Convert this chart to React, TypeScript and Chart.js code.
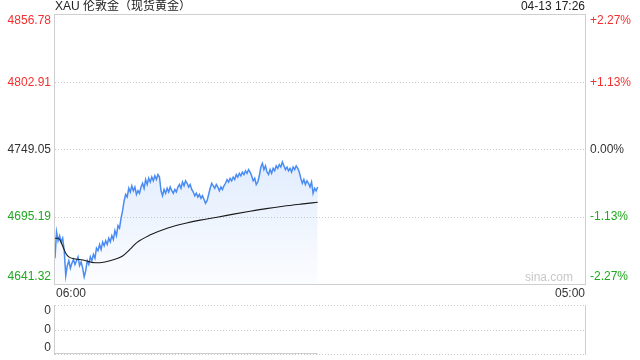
import React, { useEffect, useRef } from 'react';
import { Chart, registerables } from 'chart.js';

Chart.register(...registerables);

const TITLE = 'XAU 伦敦金（现货黄金）';
const STAMP = '04-13 17:26';
const X_LABELS = ['06:00', '05:00'];
const SESSION_MINUTES = 1380;
const STEP_MINUTES = 4;
const PRICE_TICKS = [4856.78, 4802.91, 4749.05, 4695.19, 4641.32];
const PCT_TICKS = ['+2.27%', '+1.13%', '0.00%', '-1.13%', '-2.27%'];
const VOLUME_TICKS = ['0', '0', '0'];
const WATERMARK = 'sina.com';

const prices = [
  4662, 4683, 4676, 4680, 4675, 4678, 4668, 4648, 4656, 4660,
  4654, 4658, 4661, 4657, 4660, 4663, 4656, 4659, 4654, 4647,
  4652, 4660, 4657, 4663, 4660, 4665, 4662, 4670, 4668, 4673,
  4669, 4675, 4672, 4676, 4673, 4678, 4675, 4680, 4677, 4684,
  4680, 4688, 4686, 4694, 4700, 4708, 4713, 4711, 4718, 4715,
  4720, 4716, 4719, 4713, 4716, 4714, 4719, 4722, 4718, 4725,
  4721, 4726, 4723, 4727, 4724, 4728, 4725, 4729, 4727, 4716,
  4712, 4717, 4714, 4718, 4715, 4719, 4716, 4714, 4717, 4715,
  4719, 4721, 4718, 4723, 4720, 4724, 4722, 4719, 4721, 4717,
  4715, 4712, 4714, 4711, 4713, 4710, 4712, 4709, 4706, 4708,
  4713, 4718, 4722, 4720, 4718, 4721, 4719, 4716, 4719, 4717,
  4720, 4722, 4725, 4723, 4726, 4724, 4727, 4725, 4729, 4727,
  4730, 4728, 4731, 4729, 4732, 4730, 4733, 4731, 4728, 4724,
  4726, 4721, 4723, 4728, 4735, 4738, 4733, 4736, 4731, 4729,
  4733, 4730, 4734, 4732, 4736, 4734, 4737, 4735, 4739, 4736,
  4733, 4735, 4732, 4734, 4731, 4735, 4733, 4736, 4734, 4731,
  4726, 4722, 4725, 4721, 4724, 4722, 4719, 4723, 4714, 4718,
  4716, 4719,
];

const avgMinutes = [0, 8, 14, 21, 28, 36, 50, 73, 104, 130, 160, 177, 195, 213, 247, 292, 340, 378, 422, 465, 508, 550, 594, 640, 684];
const avgValues = [4678, 4678, 4676, 4671, 4666, 4663, 4661.5, 4660.5, 4658.3, 4659, 4661.5, 4664, 4669, 4674.5, 4680.5, 4686, 4690, 4692.5, 4694.8, 4697.3, 4699.6, 4701.7, 4703.6, 4705.3, 4706.8];

const FONT = '12px Arial, "Liberation Sans", "Noto Sans CJK SC", sans-serif';
const RED = '#f2302f';
const GREEN = '#1fa81f';
const DARK = '#333333';
const FRAME = '#cfcfcf';
const tickColors = [RED, RED, DARK, GREEN, GREEN];

const mainDecor = {
  id: 'mainDecor',
  beforeDatasetsDraw(chart: any) {
    const { ctx, chartArea: a, scales } = chart;
    const y = scales.y;
    ctx.save();
    ctx.lineWidth = 1;
    ctx.strokeStyle = '#cccccc';
    ctx.setLineDash([1, 2]);
    PRICE_TICKS.slice(1, -1).forEach((v) => {
      const py = Math.round(y.getPixelForValue(v)) + 0.5;
      ctx.beginPath();
      ctx.moveTo(a.left, py);
      ctx.lineTo(a.right, py);
      ctx.stroke();
    });
    ctx.restore();
  },
  afterDraw(chart: any) {
    const { ctx, chartArea: a, scales } = chart;
    const y = scales.y;
    ctx.save();
    ctx.lineWidth = 1;
    ctx.strokeStyle = FRAME;
    ctx.strokeRect(a.left - 0.5, a.top - 0.5, a.right - a.left + 1, a.bottom - a.top + 1);
    ctx.font = FONT;
    PRICE_TICKS.forEach((v, i) => {
      let py = y.getPixelForValue(v);
      let base: CanvasTextBaseline = 'middle';
      if (i === 0) { base = 'top'; py = a.top; }
      if (i === PRICE_TICKS.length - 1) { base = 'bottom'; py = a.bottom - 1; }
      ctx.textBaseline = base;
      ctx.fillStyle = tickColors[i];
      ctx.textAlign = 'right';
      ctx.fillText(v.toFixed(2), a.left - 4, py);
      ctx.textAlign = 'left';
      ctx.fillText(PCT_TICKS[i], a.right + 5, py);
    });
    ctx.fillStyle = '#222';
    ctx.textBaseline = 'middle';
    ctx.textAlign = 'left';
    ctx.fillText(TITLE, a.left, 7);
    ctx.textAlign = 'right';
    ctx.fillText(STAMP, a.right, 7);
    const x = scales.x;
    ctx.fillStyle = DARK;
    ctx.textAlign = 'left';
    ctx.fillText(X_LABELS[0], x.getPixelForValue(0) + 1, 294);
    ctx.textAlign = 'right';
    ctx.fillText(X_LABELS[1], x.getPixelForValue(SESSION_MINUTES), 294);
    ctx.fillStyle = '#c8c8c8';
    ctx.textBaseline = 'bottom';
    ctx.fillText(WATERMARK, a.right - 12, a.bottom);
    ctx.restore();
  },
};

const volDecor = {
  id: 'volDecor',
  beforeDatasetsDraw(chart: any) {
    const { ctx, chartArea: a } = chart;
    ctx.save();
    ctx.lineWidth = 1;
    ctx.strokeStyle = '#cccccc';
    ctx.setLineDash([1, 2]);
    [a.top, (a.top + a.bottom) / 2, a.bottom].forEach((p) => {
      const py = Math.round(p) + 0.5;
      ctx.beginPath();
      ctx.moveTo(a.left, py);
      ctx.lineTo(a.right, py);
      ctx.stroke();
    });
    ctx.setLineDash([]);
    ctx.strokeStyle = FRAME;
    [a.left - 0.5, a.right + 0.5].forEach((px) => {
      ctx.beginPath();
      ctx.moveTo(px, a.top);
      ctx.lineTo(px, a.bottom + 1);
      ctx.stroke();
    });
    ctx.font = FONT;
    ctx.fillStyle = DARK;
    ctx.textAlign = 'right';
    const ys = [a.top, (a.top + a.bottom) / 2, a.bottom];
    const bases: CanvasTextBaseline[] = ['top', 'middle', 'bottom'];
    VOLUME_TICKS.forEach((t, i) => {
      ctx.textBaseline = bases[i];
      ctx.fillText(t, a.left - 4, ys[i]);
    });
    ctx.restore();
  },
};

export default function App() {
  const mainRef = useRef<HTMLCanvasElement>(null);
  const volRef = useRef<HTMLCanvasElement>(null);

  useEffect(() => {
    const priceData = prices.map((v, i) => ({ x: i * STEP_MINUTES, y: v }));
    const avgData = avgValues.map((v, i) => ({ x: avgMinutes[i], y: v }));
    const volData = prices.map((_, i) => ({ x: i * STEP_MINUTES, y: 0 }));

    const main = new Chart(mainRef.current!, {
      type: 'line',
      data: {
        datasets: [
          {
            data: avgData,
            borderColor: '#1a1a1a',
            borderWidth: 1.1,
            pointRadius: 0,
            cubicInterpolationMode: 'monotone',
            fill: false,
            order: 1,
          },
          {
            data: priceData,
            borderColor: '#4a8cf2',
            borderWidth: 1.5,
            pointRadius: 0,
            tension: 0,
            fill: 'start',
            order: 2,
            backgroundColor: (c: any) => {
              const area = c.chart.chartArea;
              if (!area) return 'rgba(74,140,242,0.1)';
              const g = c.chart.ctx.createLinearGradient(0, area.top + 140, 0, area.bottom);
              g.addColorStop(0, 'rgba(74,140,242,0.17)');
              g.addColorStop(1, 'rgba(74,140,242,0.02)');
              return g;
            },
          },
        ],
      },
      options: {
        responsive: false,
        animation: false,
        devicePixelRatio: 1,
        layout: { padding: { left: 55, right: 55, top: 15, bottom: 16 } },
        plugins: { legend: { display: false }, tooltip: { enabled: false } },
        scales: {
          x: { type: 'linear', min: 0, max: SESSION_MINUTES, display: false },
          y: { min: PRICE_TICKS[PRICE_TICKS.length - 1], max: PRICE_TICKS[0], display: false },
        },
      },
      plugins: [mainDecor],
    });

    const vol = new Chart(volRef.current!, {
      type: 'line',
      data: {
        datasets: [
          {
            data: volData,
            borderColor: '#999999',
            borderWidth: 1,
            pointRadius: 0,
            fill: false,
          },
        ],
      },
      options: {
        responsive: false,
        animation: false,
        devicePixelRatio: 1,
        layout: { padding: { left: 55, right: 55, top: 5, bottom: 6 } },
        plugins: { legend: { display: false }, tooltip: { enabled: false } },
        scales: {
          x: { type: 'linear', min: 0, max: SESSION_MINUTES, display: false },
          y: { min: 0, max: 1, display: false },
        },
      },
      plugins: [volDecor],
    });

    return () => {
      main.destroy();
      vol.destroy();
    };
  }, []);

  return (
    <div style={{ position: 'absolute', left: 0, top: 0, width: 640, height: 360, background: '#fff' }}>
      <canvas ref={mainRef} width={640} height={300} style={{ position: 'absolute', left: 0, top: 0 }} />
      <canvas ref={volRef} width={640} height={60} style={{ position: 'absolute', left: 0, top: 300 }} />
    </div>
  );
}
